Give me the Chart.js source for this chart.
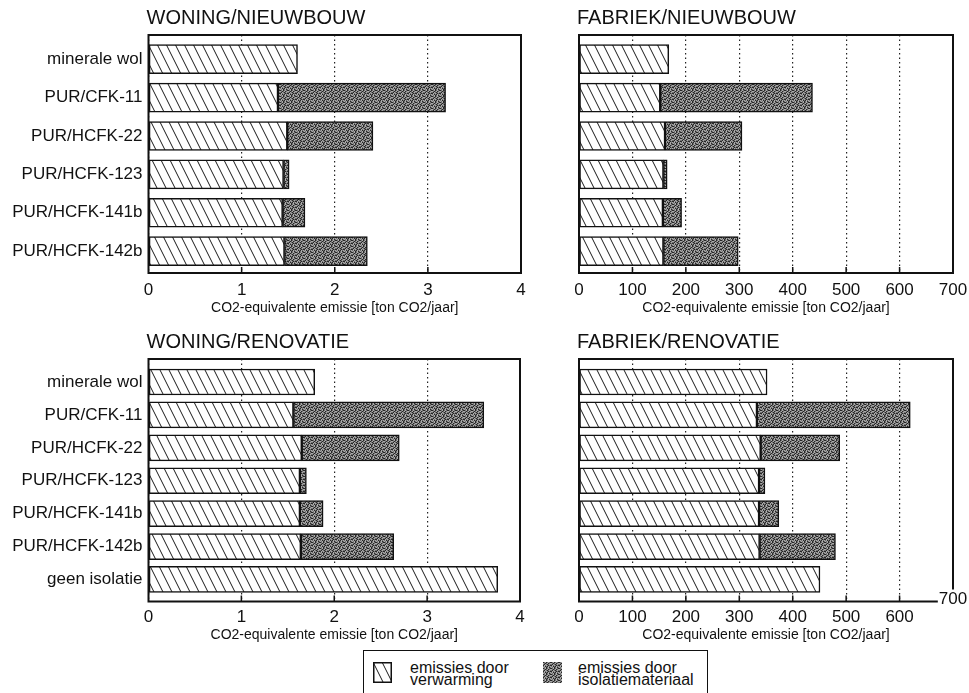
<!DOCTYPE html>
<html>
<head>
<meta charset="utf-8">
<script src="https://cdn.jsdelivr.net/npm/chart.js@4.4.1/dist/chart.umd.min.js"></script>
<style>
  html, body { margin: 0; padding: 0; background: #fff; }
  body { width: 969px; height: 693px; position: relative; overflow: hidden;
         font-family: "Liberation Sans", Arial, sans-serif; color: #111; }
  canvas.panel { position: absolute; }
  #legend { position: absolute; left: 363px; top: 650px; width: 345px; height: 70px;
            border: 1.5px solid #111; box-sizing: border-box; }
  #legend canvas { position: absolute; }
  #legend .ltxt { position: absolute; font-size: 16px; line-height: 12px; white-space: nowrap; }
</style>
</head>
<body>
<canvas class="panel" id="woningNieuw" width="545" height="320" style="left:0;top:0"></canvas>
<canvas class="panel" id="fabriekNieuw" width="424" height="320" style="left:545px;top:0"></canvas>
<canvas class="panel" id="woningReno" width="545" height="330" style="left:0;top:320px"></canvas>
<canvas class="panel" id="fabriekReno" width="424" height="330" style="left:545px;top:320px"></canvas>

<div id="legend">
  <canvas id="swatchHeat" width="19" height="21" style="left:9px;top:11px"></canvas>
  <div class="ltxt" style="left:46px;top:11px">emissies door<br>verwarming</div>
  <canvas id="swatchIso" width="19" height="21" style="left:179px;top:11px"></canvas>
  <div class="ltxt" style="left:214px;top:11px">emissies door<br>isolatiemateriaal</div>
</div>

<script>
// ---- data ----
const nieuwbouwLabels = ['minerale wol', 'PUR/CFK-11', 'PUR/HCFK-22', 'PUR/HCFK-123', 'PUR/HCFK-141b', 'PUR/HCFK-142b'];
const renovatieLabels = ['minerale wol', 'PUR/CFK-11', 'PUR/HCFK-22', 'PUR/HCFK-123', 'PUR/HCFK-141b', 'PUR/HCFK-142b', 'geen isolatie'];

// WONING/NIEUWBOUW  [ton CO2/jaar]
const woningNieuwVerwarming = [1.60, 1.39, 1.49, 1.45, 1.44, 1.46];
const woningNieuwIsolatie   = [null, 1.80, 0.92, 0.06, 0.24, 0.89];

// FABRIEK/NIEUWBOUW
const fabriekNieuwVerwarming = [168, 152, 161, 158, 157, 158];
const fabriekNieuwIsolatie   = [null, 285, 144, 7, 35, 140];

// WONING/RENOVATIE
const woningRenoVerwarming = [1.79, 1.56, 1.65, 1.63, 1.63, 1.64, 3.76];
const woningRenoIsolatie   = [null, 2.05, 1.05, 0.07, 0.25, 1.00, null];

// FABRIEK/RENOVATIE
const fabriekRenoVerwarming = [352, 333, 340, 337, 337, 338, 451];
const fabriekRenoIsolatie   = [null, 287, 148, 11, 37, 142, null];

const woningTicks  = [0, 1, 2, 3, 4];
const fabriekTicks = [0, 100, 200, 300, 400, 500, 600, 700];

const axisTitle = 'CO2-equivalente emissie [ton CO2/jaar]';
const seriesNames = ['emissies door verwarming', 'emissies door isolatiemateriaal'];

// ---- fill patterns ----
function hatchPattern(ctx) {
  const c = document.createElement('canvas');
  c.width = 9; c.height = 18;
  const g = c.getContext('2d');
  g.fillStyle = '#fff'; g.fillRect(0, 0, 9, 18);
  g.strokeStyle = '#1a1a1a'; g.lineWidth = 1;
  for (const dx of [-9, 0, 9]) {
    g.beginPath(); g.moveTo(dx - 1, -2); g.lineTo(dx + 10, 20); g.stroke();
  }
  return ctx.createPattern(c, 'repeat');
}

function stipplePattern(ctx) {
  const rows = [
    'kgwkgwgk',
    'wgkgwkgw',
    'gkwgkgwg',
    'kwgwgkgk',
    'gwkgkwgw',
    'wgwkgwkg'
  ];
  const tone = { k: '#262626', g: '#707070', w: '#ababab' };
  const c = document.createElement('canvas');
  c.width = rows[0].length; c.height = rows.length;
  const g = c.getContext('2d');
  rows.forEach((r, y) => [...r].forEach((ch, x) => { g.fillStyle = tone[ch]; g.fillRect(x, y, 1, 1); }));
  return ctx.createPattern(c, 'repeat');
}

Chart.defaults.font.family = '"Liberation Sans", Arial, sans-serif';
Chart.defaults.color = '#111';

// heading, frame, inner tick marks and the displaced end label
const panelDecor = {
  id: 'panelDecor',
  afterDatasetsDraw(chart, args, opts) {
    const { ctx, chartArea: a, scales: { x } } = chart;
    ctx.save();
    ctx.strokeStyle = '#111';
    ctx.lineWidth = 1.5;
    x.ticks.forEach(t => {
      const px = x.getPixelForValue(t.value);
      if (px > a.left + 2 && px < a.right - 2) {
        ctx.beginPath(); ctx.moveTo(px, a.bottom); ctx.lineTo(px, a.bottom - 6); ctx.stroke();
      }
    });
    ctx.lineWidth = 2;
    ctx.strokeRect(a.left, a.top, a.right - a.left, a.bottom - a.top);

    ctx.fillStyle = '#111';
    ctx.font = '20px "Liberation Sans", Arial, sans-serif';
    ctx.textAlign = 'left';
    ctx.textBaseline = 'alphabetic';
    ctx.fillText(opts.text, a.left - 2, a.top - 11);

    if (opts.cornerTick != null) {
      const px = x.getPixelForValue(opts.cornerTick);
      const label = String(opts.cornerTick);
      ctx.font = '17px "Liberation Sans", Arial, sans-serif';
      const w = ctx.measureText(label).width;
      ctx.fillStyle = '#fff';
      ctx.fillRect(px - w / 2 - 1, a.bottom - 12, w + 2, 16);
      ctx.fillStyle = '#111';
      ctx.textAlign = 'center';
      ctx.textBaseline = 'middle';
      ctx.fillText(label, px, a.bottom - 2);
    }
    ctx.restore();
  }
};

function makePanel(id, p) {
  const canvas = document.getElementById(id);
  const ctx = canvas.getContext('2d');
  const hatch = hatchPattern(ctx);
  const stipple = stipplePattern(ctx);
  const toPoints = arr => arr.map((v, i) => ({ x: v, y: i }));

  return new Chart(ctx, {
    type: 'bar',
    data: {
      datasets: [
        { label: seriesNames[0], data: toPoints(p.heat), backgroundColor: hatch,
          borderColor: '#111', borderWidth: 1.5, borderSkipped: false },
        { label: seriesNames[1], data: toPoints(p.iso), backgroundColor: stipple,
          borderColor: '#111', borderWidth: 1.5, borderSkipped: false }
      ]
    },
    options: {
      indexAxis: 'y',
      responsive: false,
      animation: false,
      barThickness: p.barPx,
      layout: { padding: { top: p.padTop, right: p.padRight, bottom: 0, left: 0 } },
      plugins: {
        legend: { display: false },
        tooltip: { enabled: false },
        panelDecor: { text: p.title, cornerTick: p.cornerTick }
      },
      scales: {
        x: {
          type: 'linear', position: 'bottom', stacked: true, bounds: 'data', offset: false,
          min: p.ticks[0], max: p.ticks[p.ticks.length - 1],
          afterBuildTicks: s => { s.ticks = p.ticks.map(v => ({ value: v })); },
          ticks: {
            autoSkip: false, maxRotation: 0, padding: p.tickPad, color: '#111',
            font: { size: 17 },
            callback: v => (v === p.cornerTick ? '' : String(v))
          },
          grid: { color: '#222', lineWidth: 1.2, drawTicks: false, offset: false },
          border: { display: false, dash: [1.5, 3] },
          title: { display: true, text: axisTitle, color: '#111', font: { size: 14 },
                   padding: { top: 0, bottom: p.titlePad } },
          afterFit: s => { s.height = p.xHeight; s.paddingLeft = 0; s.paddingRight = 0; }
        },
        y: {
          type: 'linear', reverse: true, stacked: true, bounds: 'data', offset: false,
          min: p.yRange[0], max: p.yRange[1],
          afterBuildTicks: s => { s.ticks = p.labels.map((_, i) => ({ value: i })); },
          ticks: {
            display: p.showLabels, autoSkip: false, padding: 6, color: '#111',
            font: { size: 17 },
            callback: v => p.labels[v]
          },
          grid: { display: false, drawTicks: false, offset: false },
          border: { display: false },
          afterFit: s => { s.width = p.yWidth; s.paddingTop = 0; s.paddingBottom = 0; }
        }
      }
    },
    plugins: [panelDecor]
  });
}

makePanel('woningNieuw', {
  title: 'WONING/NIEUWBOUW', labels: nieuwbouwLabels,
  heat: woningNieuwVerwarming, iso: woningNieuwIsolatie, ticks: woningTicks,
  yRange: [-0.63, 5.57], barPx: 29, padTop: 35, padRight: 24, yWidth: 148.5,
  showLabels: true, xHeight: 47, tickPad: 7, titlePad: 3.5
});
makePanel('fabriekNieuw', {
  title: 'FABRIEK/NIEUWBOUW', labels: nieuwbouwLabels,
  heat: fabriekNieuwVerwarming, iso: fabriekNieuwIsolatie, ticks: fabriekTicks,
  yRange: [-0.63, 5.57], barPx: 29, padTop: 35, padRight: 16, yWidth: 34,
  showLabels: false, xHeight: 47, tickPad: 7, titlePad: 3.5
});
makePanel('woningReno', {
  title: 'WONING/RENOVATIE', labels: renovatieLabels,
  heat: woningRenoVerwarming, iso: woningRenoIsolatie, ticks: woningTicks,
  yRange: [-0.70, 6.67], barPx: 26, padTop: 39, padRight: 25, yWidth: 148.5,
  showLabels: true, xHeight: 48.5, tickPad: 5.5, titlePad: 6.5
});
makePanel('fabriekReno', {
  title: 'FABRIEK/RENOVATIE', labels: renovatieLabels,
  heat: fabriekRenoVerwarming, iso: fabriekRenoIsolatie, ticks: fabriekTicks,
  yRange: [-0.70, 6.67], barPx: 26, padTop: 39, padRight: 16, yWidth: 34,
  showLabels: false, xHeight: 48.5, tickPad: 5.5, titlePad: 6.5, cornerTick: 700
});

// legend swatches
(function () {
  const h = document.getElementById('swatchHeat').getContext('2d');
  h.fillStyle = hatchPattern(h); h.fillRect(0, 0, 19, 21);
  h.strokeStyle = '#111'; h.lineWidth = 1.5; h.strokeRect(0.75, 0.75, 17.5, 19.5);
  const s = document.getElementById('swatchIso').getContext('2d');
  s.fillStyle = stipplePattern(s); s.fillRect(0, 0, 19, 21);
})();
</script>
</body>
</html>
